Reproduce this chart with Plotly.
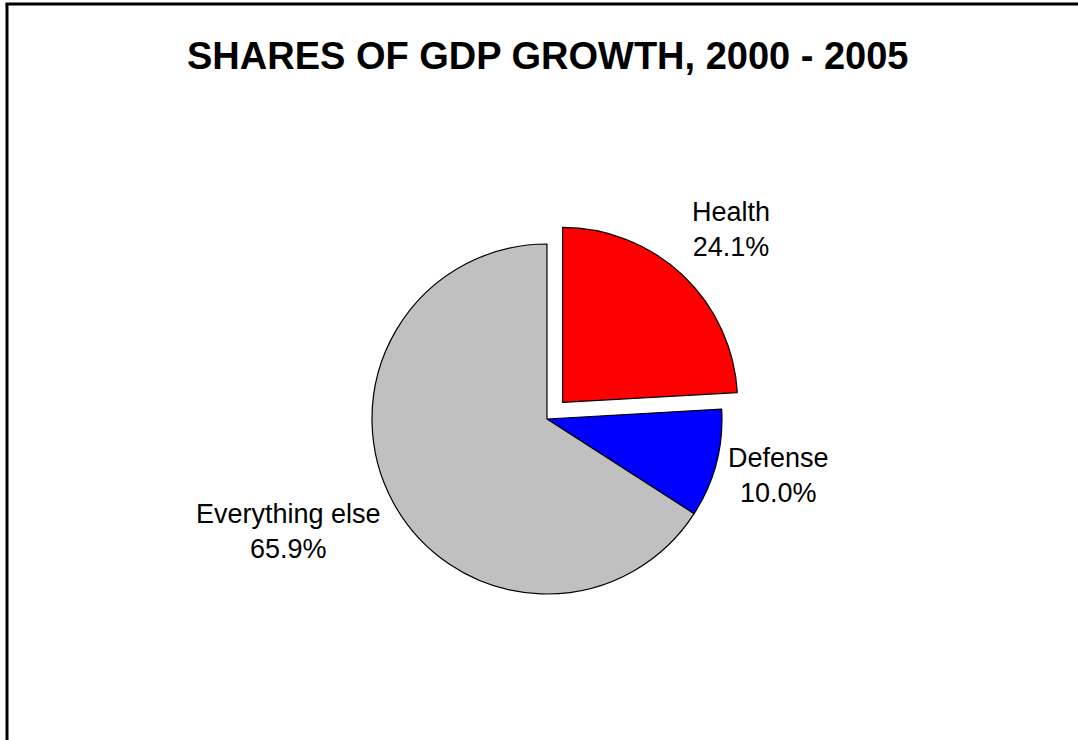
import plotly.graph_objects as go

# Data
categories = ["Health", "Defense", "Everything else"]
shares = [24.1, 10.0, 65.9]
slice_colors = ["#FF0000", "#0000FF", "#C0C0C0"]
pulls = [0.13, 0, 0]
title_text = "SHARES OF GDP GROWTH, 2000 - 2005"

W, H = 1078, 740
FONT = "Liberation Sans, Arial, sans-serif"

# label positions (pixel centers) for each category
label_px = [(731, 230), (778, 475), (288.5, 531)]

fig = go.Figure()
fig.add_trace(go.Pie(
    labels=categories,
    values=shares,
    sort=False,
    direction="clockwise",
    rotation=0,
    pull=pulls,
    marker=dict(colors=slice_colors, line=dict(color="black", width=1.2)),
    textinfo="none",
    hoverinfo="label+percent",
    showlegend=False,
    domain=dict(x=[0.2074, 0.8074], y=[0.1666, 0.701]),
))

annotations = []
for cat, val, (px, py) in zip(categories, shares, label_px):
    annotations.append(dict(
        text=f"{cat}<br>{val:.1f}%",
        x=px / W, y=1 - py / H, xref="paper", yref="paper",
        xanchor="center", yanchor="middle", showarrow=False,
        align="center",
        font=dict(family=FONT, size=27, color="black"),
    ))

annotations.append(dict(
    text=f"<b>{title_text}</b>",
    x=547.5 / W, y=1 - 56 / H, xref="paper", yref="paper",
    xanchor="center", yanchor="middle", showarrow=False,
    font=dict(family=FONT, size=38, color="black"),
))

shapes = [
    dict(type="line", xref="paper", yref="paper",
         x0=7 / W, x1=7 / W, y0=0, y1=1 - 4 / H,
         line=dict(color="black", width=3)),
    dict(type="line", xref="paper", yref="paper",
         x0=7 / W - 1.5 / W, x1=1, y0=1 - 4 / H, y1=1 - 4 / H,
         line=dict(color="black", width=3)),
]

fig.update_layout(
    width=W, height=H,
    margin=dict(l=0, r=0, t=0, b=0),
    paper_bgcolor="white",
    plot_bgcolor="white",
    annotations=annotations,
    shapes=shapes,
    font=dict(family=FONT),
)

fig.write_html("out.html")
